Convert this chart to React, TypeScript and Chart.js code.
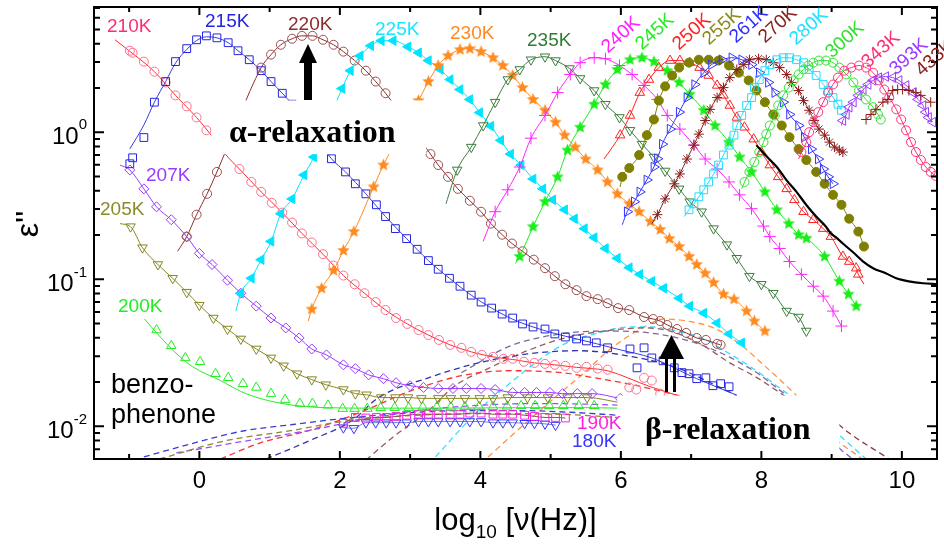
import React, { useEffect, useRef } from "react";
import { Chart, registerables } from "chart.js";

Chart.register(...registerables);

type Pt = [number, number];

// ---------- axes ----------
const X_MIN = -1.5;
const X_MAX = 10.5;
const Y_MIN = 0.006;
const Y_MAX = 7.1;
const xMajorTicks = [0, 2, 4, 6, 8, 10];
const xMinorTicks = [-1, 1, 3, 5, 7, 9];
const yDecadeExps = [0, -1, -2];

// ---------- data: [log10(nu/Hz), eps''] ----------
const t180: Pt[] = [[2.05,0.0098],[2.20,0.0097],[2.37,0.0106],[2.51,0.0106],[2.66,0.0106],[2.80,0.0106],[2.95,0.0106],[3.12,0.0108],[3.26,0.0108],[3.40,0.0108],[3.57,0.0108],[3.71,0.0108],[3.85,0.0108],[4.01,0.0108],[4.18,0.0106],[4.32,0.0106],[4.46,0.0106],[4.63,0.0105],[4.77,0.0105],[4.92,0.0104],[5.07,0.0102]];
const t190: Pt[] = [[2.05,0.0105],[2.22,0.0115],[2.37,0.0114],[2.52,0.0115],[2.66,0.0115],[2.80,0.0117],[2.95,0.0119],[3.12,0.0121],[3.26,0.0121],[3.40,0.0121],[3.57,0.0121],[3.71,0.0121],[3.85,0.0123],[4.01,0.0123],[4.18,0.0121],[4.32,0.0121],[4.46,0.0121],[4.63,0.0119],[4.77,0.0117],[4.92,0.0115],[5.07,0.0115],[5.21,0.0114]];
const t200: Pt[] = [[-0.61,0.0452],[-0.40,0.0353],[-0.20,0.0292],[0.01,0.0275],[0.23,0.0228],[0.41,0.0214],[0.62,0.0195],[0.81,0.0184],[1.02,0.0167],[1.22,0.0152],[1.43,0.0143],[1.61,0.0143],[1.83,0.0139],[2.04,0.0132],[2.21,0.0132],[2.39,0.0132],[2.58,0.0134],[2.78,0.0134],[2.98,0.0134],[3.18,0.0135],[3.38,0.0135],[3.58,0.0135],[3.78,0.0136],[3.98,0.0136],[4.18,0.0136],[4.38,0.0137],[4.58,0.0138],[4.78,0.0138],[4.98,0.0138],[5.18,0.0138],[5.40,0.0138],[5.62,0.0138]];
const fit200: Pt[] = [[-0.78,0.0537],[-0.57,0.0412],[-0.35,0.032],[-0.10,0.0255],[0.30,0.0205],[0.60,0.0172],[0.86,0.0155],[1.30,0.014],[1.80,0.0134],[2.5,0.0133],[3.5,0.0133],[4.5,0.0134],[5.5,0.0134],[5.95,0.0133]];
const t205: Pt[] = [[-1.13,0.239],[-0.98,0.228],[-0.81,0.164],[-0.59,0.126],[-0.38,0.1016],[-0.18,0.0817],[0,0.0667],[0.20,0.0545],[0.40,0.0459],[0.59,0.0393],[0.81,0.0336],[1.02,0.0292],[1.20,0.0258],[1.39,0.0228],[1.60,0.0208],[1.80,0.0192],[2.05,0.0178],[2.22,0.0167],[2.38,0.0164],[2.59,0.0157],[2.79,0.0157],[2.97,0.0157],[3.16,0.0155],[3.40,0.0155],[3.58,0.0155],[3.78,0.0155],[3.99,0.0155],[4.18,0.0155],[4.39,0.0157],[4.67,0.0157],[4.96,0.0157],[5.24,0.0157],[5.52,0.0157],[5.99,0.0145]];
const t207: Pt[] = [[-1.13,0.598],[-0.99,0.554],[-0.79,0.412],[-0.61,0.311],[-0.40,0.254],[-0.18,0.195],[0,0.15],[0.18,0.126],[0.40,0.0985],[0.59,0.0804],[0.81,0.0657],[1.02,0.0545],[1.23,0.0467],[1.42,0.0399],[1.60,0.0336],[1.81,0.0306],[2.05,0.0262],[2.22,0.0247],[2.41,0.0224],[2.62,0.0211],[2.80,0.0198],[3.00,0.0189],[3.19,0.0184],[3.40,0.0181],[3.61,0.0181],[3.80,0.0181],[4.01,0.0181],[4.21,0.0178],[4.46,0.017],[4.63,0.017],[4.80,0.017],[4.99,0.017],[5.17,0.0167],[5.38,0.0167],[5.59,0.0167],[5.99,0.0155]];
const t210: Pt[] = [[-0.99,3.58],[-0.95,3.47],[-0.79,3.02],[-0.64,2.58],[-0.48,2.18],[-0.34,1.78],[-0.18,1.5],[-0.04,1.26],[0.10,1.03],[0.57,0.562],[0.74,0.459],[0.88,0.393],[1.03,0.331],[1.18,0.284],[1.32,0.243],[1.46,0.205],[1.60,0.178],[1.76,0.148],[1.91,0.124],[2.05,0.106],[2.21,0.0925],[2.35,0.0804],[2.51,0.07],[2.65,0.0618],[2.80,0.0545],[2.96,0.0497],[3.12,0.0452],[3.26,0.0418],[3.41,0.0387],[3.57,0.0358],[3.73,0.0342],[3.87,0.0321],[4.02,0.0306],[4.18,0.0297],[4.33,0.0288],[4.46,0.0288],[4.62,0.0275],[4.77,0.027],[4.92,0.0266],[5.06,0.0262],[5.21,0.0258],[5.37,0.025],[5.51,0.0254],[5.67,0.0247],[5.81,0.0243],[6.12,0.0184],[6.22,0.0178],[6.33,0.0214],[6.44,0.0205],[6.56,0.0167]];
const fit210: Pt[] = [[-1.2,4.25],[-0.99,3.55],[-0.64,2.58],[-0.34,1.78],[-0.04,1.26],[0.15,0.98],[0.38,0.70],[0.57,0.562],[0.88,0.393],[1.18,0.284],[1.46,0.205],[1.76,0.148],[2.05,0.106],[2.35,0.0804],[2.65,0.0618],[2.96,0.0497],[3.26,0.0418],[3.57,0.0358],[3.87,0.0321],[4.18,0.0297],[4.46,0.0285],[4.77,0.027],[5.06,0.0262],[5.37,0.0252],[5.67,0.0245],[5.81,0.0239],[6.42,0.0186],[6.9,0.0157]];
const t215: Pt[] = [[-0.99,0.61],[-0.95,0.67],[-0.79,0.92],[-0.64,1.6],[-0.48,2.21],[-0.34,3.02],[-0.18,3.7],[-0.04,4.25],[0.10,4.52],[0.25,4.38],[0.41,4.06],[0.55,3.58],[0.71,3.11],[0.88,2.62],[1.02,2.21],[1.18,1.84],[1.32,1.55],[1.88,0.66],[2.08,0.537],[2.22,0.446],[2.37,0.381],[2.52,0.321],[2.65,0.267],[2.79,0.221],[2.95,0.189],[3.10,0.16],[3.26,0.134],[3.40,0.117],[3.56,0.1016],[3.71,0.0897],[3.87,0.078],[4.01,0.07],[4.16,0.0637],[4.31,0.058],[4.46,0.0545],[4.60,0.0497],[4.75,0.0474],[4.92,0.0459],[5.06,0.0425],[5.21,0.0405],[5.37,0.0393],[5.51,0.0381],[5.65,0.037],[5.81,0.0342],[6.13,0.0336],[6.23,0.025],[6.33,0.0342],[6.44,0.0292],[6.60,0.0279],[6.76,0.025],[6.87,0.0232],[6.97,0.0228],[7.08,0.0211],[7.21,0.0214],[7.31,0.0189],[7.42,0.0195],[7.54,0.0186]];
const fit215: Pt[] = [[-0.99,0.77],[-0.79,1.12],[-0.64,1.6],[-0.48,2.21],[-0.34,2.95],[-0.18,3.65],[-0.04,4.2],[0.10,4.45],[0.25,4.38],[0.41,4.06],[0.55,3.58],[0.71,3.11],[0.88,2.62],[1.02,2.21],[1.18,1.84],[1.32,1.55],[1.88,0.66],[2.08,0.537],[2.37,0.381],[2.65,0.267],[2.95,0.189],[3.26,0.134],[3.56,0.1016],[3.87,0.078],[4.16,0.0637],[4.46,0.0535],[4.75,0.0474],[5.06,0.0428],[5.37,0.0393],[5.65,0.0365],[5.95,0.0335],[6.44,0.0292],[7.08,0.0211],[7.65,0.0163]];
const t220: Pt[] = [[-0.31,0.155],[-0.18,0.195],[-0.04,0.275],[0.11,0.381],[0.25,0.537],[0.88,2.75],[1.02,3.37],[1.16,3.93],[1.32,4.32],[1.46,4.52],[1.61,4.52],[1.76,4.25],[1.91,3.93],[2.05,3.53],[2.21,3.07],[2.37,2.62],[2.51,2.21],[2.65,1.84],[3.29,0.71],[3.40,0.598],[3.54,0.497],[3.68,0.412],[3.85,0.342],[4.01,0.288],[4.15,0.239],[4.31,0.201],[4.45,0.175],[4.60,0.155],[4.76,0.136],[4.92,0.119],[5.06,0.105],[5.21,0.0925],[5.37,0.0843],[5.51,0.0768],[5.67,0.0733],[5.81,0.0688],[5.96,0.0637],[6.12,0.0618],[6.33,0.0554],[6.46,0.0537],[6.56,0.052],[6.66,0.0489],[6.80,0.0459],[6.93,0.0432],[7.08,0.0399],[7.21,0.0387],[7.37,0.0364],[7.42,0.0358]];
const t225: Pt[] = [[0.52,0.0608],[0.59,0.0804],[0.74,0.1016],[0.88,0.136],[1.02,0.181],[1.16,0.279],[1.32,0.352],[1.49,0.512],[1.63,0.678],[2.03,1.98],[2.15,2.62],[2.29,3.31],[2.44,3.87],[2.59,4.19],[2.76,4.19],[2.97,3.81],[3.12,3.47],[3.26,3.07],[3.43,2.67],[3.57,2.28],[3.71,1.95],[3.85,1.67],[3.99,1.36],[4.15,1.1],[4.29,0.88],[4.43,0.71],[4.58,0.598],[4.75,0.481],[4.89,0.412],[5.03,0.347],[5.20,0.297],[5.34,0.258],[5.48,0.221],[5.62,0.192],[5.78,0.162],[5.95,0.139],[6.12,0.12],[6.27,0.108],[6.44,0.0969],[6.61,0.0869],[6.83,0.0744],[6.98,0.0657],[7.18,0.0589],[7.37,0.0504],[7.54,0.0425],[7.72,0.037]];
const t230: Pt[] = [[1.55,0.052],[1.60,0.0627],[1.74,0.0869],[1.91,0.115],[2.05,0.157],[2.20,0.211],[2.48,0.425],[2.62,0.598],[3.12,1.64],[3.26,2.21],[3.40,2.84],[3.54,3.31],[3.71,3.64],[3.85,3.7],[4.01,3.53],[4.18,3.21],[4.32,2.84],[4.46,2.43],[4.60,2.01],[4.75,1.67],[4.92,1.41],[5.07,1.17],[5.20,0.955],[5.35,0.792],[5.50,0.657],[5.67,0.554],[5.81,0.459],[5.95,0.381],[6.12,0.326],[6.26,0.288],[6.42,0.247],[6.56,0.218],[6.69,0.189],[6.83,0.167],[6.97,0.143],[7.08,0.126],[7.20,0.11],[7.32,0.095],[7.46,0.0792],[7.61,0.0733],[7.79,0.0608],[7.90,0.052],[8.05,0.0445]];
const t235: Pt[] = [[3.51,0.326],[3.67,0.554],[3.87,0.792],[4.04,1.11],[4.21,1.6],[4.39,2.28],[4.56,2.67],[4.72,3.11],[4.92,3.26],[5.07,3.07],[5.27,2.71],[5.42,2.32],[5.62,1.92],[5.78,1.55],[5.98,1.26],[6.13,1.03],[6.30,0.83],[6.47,0.678],[6.63,0.545],[6.83,0.412],[6.98,0.337],[7.15,0.288],[7.32,0.221],[7.51,0.172],[7.65,0.139],[7.83,0.105],[8.00,0.0925],[8.17,0.0804],[8.36,0.0608],[8.53,0.0554],[8.64,0.0445]];
const t240: Pt[] = [[4.04,0.181],[4.21,0.288],[4.39,0.406],[4.56,0.58],[4.72,0.911],[4.92,1.3],[5.10,1.86],[5.28,2.47],[5.42,2.97],[5.62,3.21],[5.78,3.16],[5.98,2.84],[6.16,2.47],[6.33,2.08],[6.52,1.67],[6.66,1.3],[6.84,1.05],[7.04,0.817],[7.20,0.657],[7.37,0.562],[7.54,0.459],[7.69,0.375],[7.86,0.302],[8.03,0.23],[8.12,0.195],[8.26,0.162],[8.40,0.132],[8.57,0.108],[8.74,0.0897],[8.88,0.0768],[9.02,0.0608],[9.14,0.0481]];
const t245: Pt[] = [[4.50,0.128],[4.56,0.143],[4.75,0.228],[4.92,0.337],[5.10,0.497],[5.24,0.756],[5.42,1.08],[5.62,1.55],[5.78,2.11],[5.95,2.67],[6.13,3.11],[6.30,3.21],[6.47,3.02],[6.66,2.62],[6.83,2.18],[6.98,1.81],[7.18,1.41],[7.34,1.11],[7.54,0.856],[7.69,0.678],[7.86,0.537],[8.05,0.393],[8.22,0.297],[8.39,0.239],[8.53,0.201],[8.64,0.19],[8.90,0.143],[9.11,0.097],[9.24,0.0792],[9.35,0.0657]];
const t250: Pt[] = [[5.76,0.657],[5.99,0.955],[6.13,1.3],[6.27,1.86],[6.40,2.28],[6.54,2.75],[6.70,3.07],[6.84,3.07],[6.98,2.97],[7.12,2.75],[7.25,2.43],[7.37,2.08],[7.46,1.78],[7.55,1.52],[7.65,1.26],[7.76,1.08],[7.89,0.897],[8.00,0.733],[8.12,0.598],[8.24,0.497],[8.36,0.412],[8.47,0.347],[8.60,0.288],[8.74,0.254],[8.88,0.221],[8.99,0.195],[9.16,0.143],[9.25,0.132],[9.35,0.119],[9.38,0.108],[9.46,0.0925]];
const t250hf: Pt[] = [[7.93,0.817],[8.08,0.68],[8.22,0.58],[8.36,0.47],[8.50,0.393],[8.64,0.32],[8.78,0.267],[8.92,0.228],[8.99,0.205],[9.08,0.19],[9.16,0.175],[9.31,0.152],[9.45,0.132],[9.59,0.119],[9.77,0.11],[9.92,0.1016],[10.10,0.0969],[10.30,0.094],[10.51,0.0925]];
const t255: Pt[] = [[5.99,0.425],[6.02,0.497],[6.12,0.571],[6.26,0.7],[6.37,0.955],[6.47,1.22],[6.54,1.64],[6.63,2.05],[6.73,2.43],[6.83,2.75],[6.97,2.97],[7.11,3.11],[7.25,3.11],[7.39,3.07],[7.54,2.84],[7.68,2.54],[7.82,2.25],[7.93,1.92],[8.05,1.6],[8.17,1.32],[8.29,1.11],[8.40,0.925],[8.53,0.768],[8.64,0.647],[8.78,0.537],[8.90,0.446],[9.02,0.375],[9.14,0.321],[9.25,0.258],[9.38,0.211],[9.46,0.167]];
const t261: Pt[] = [[6.02,0.235],[6.09,0.288],[6.19,0.337],[6.27,0.393],[6.37,0.474],[6.47,0.58],[6.52,0.66],[6.59,0.83],[6.70,1.05],[6.83,1.37],[6.94,1.72],[7.05,2.11],[7.18,2.54],[7.29,2.88],[7.44,3.11],[7.58,3.21],[7.72,3.11],[7.86,2.88],[7.97,2.54],[8.10,2.18],[8.19,1.86],[8.31,1.6],[8.40,1.32],[8.53,1.11],[8.61,0.925],[8.71,0.768],[8.81,0.657],[8.88,0.562],[8.95,0.497],[9.02,0.446]];
const t270: Pt[] = [[6.44,0.239],[6.52,0.275],[6.63,0.352],[6.76,0.446],[6.84,0.52],[6.94,0.657],[7.04,0.817],[7.11,0.97],[7.20,1.2],[7.27,1.43],[7.37,1.72],[7.46,2.01],[7.55,2.35],[7.65,2.67],[7.75,2.88],[7.83,3.11],[7.96,3.16],[8.07,3.11],[8.17,2.97],[8.26,2.75],[8.36,2.47],[8.43,2.18],[8.53,1.92],[8.60,1.64],[8.68,1.41],[8.75,1.2],[8.82,1.05],[8.90,0.955],[8.97,0.856],[9.04,0.792],[9.11,0.756],[9.16,0.733]];
const t280: Pt[] = [[6.90,0.267],[6.97,0.297],[7.04,0.326],[7.11,0.364],[7.18,0.406],[7.25,0.459],[7.32,0.52],[7.39,0.598],[7.46,0.7],[7.54,0.817],[7.61,0.955],[7.65,1.11],[7.72,1.3],[7.79,1.52],[7.86,1.72],[7.90,2.01],[7.97,2.28],[8.05,2.62],[8.12,2.88],[8.22,3.11],[8.31,3.21],[8.40,3.21],[8.50,3.11],[8.60,2.97],[8.68,2.67],[8.78,2.43],[8.88,2.11],[8.95,1.92],[9.02,1.72],[9.09,1.55],[9.14,1.41]];
const t300: Pt[] = [[7.72,0.412],[7.76,0.459],[7.83,0.537],[7.90,0.627],[7.97,0.733],[8.03,0.856],[8.07,0.97],[8.12,1.11],[8.19,1.3],[8.24,1.52],[8.31,1.78],[8.39,2.01],[8.46,2.25],[8.53,2.47],[8.60,2.67],[8.67,2.84],[8.74,2.97],[8.82,3.07],[8.92,3.07],[9.02,2.97],[9.11,2.75],[9.21,2.47],[9.31,2.18],[9.39,1.92],[9.49,1.67],[9.59,1.48],[9.66,1.32],[9.70,1.22]];
const t343: Pt[] = [[8.53,0.657],[8.57,0.733],[8.64,0.856],[8.68,1.0],[8.74,1.17],[8.81,1.37],[8.88,1.6],[8.95,1.86],[9.02,2.11],[9.09,2.35],[9.18,2.62],[9.28,2.75],[9.39,2.84],[9.49,2.75],[9.59,2.54],[9.67,2.25],[9.75,1.95],[9.82,1.72],[9.92,1.43],[9.99,1.22],[10.06,1.03],[10.13,0.856],[10.20,0.733],[10.27,0.647],[10.34,0.58],[10.41,0.537],[10.48,0.505]];
const t393: Pt[] = [[9.14,1.11],[9.16,1.2],[9.21,1.32],[9.25,1.48],[9.31,1.6],[9.38,1.78],[9.45,1.95],[9.52,2.11],[9.59,2.25],[9.67,2.35],[9.77,2.39],[9.87,2.35],[9.96,2.25],[10.06,2.08],[10.16,1.86],[10.23,1.67],[10.30,1.52],[10.34,1.37],[10.38,1.26],[10.44,1.17]];
const t433: Pt[] = [[9.49,1.22],[9.56,1.32],[9.63,1.43],[9.73,1.6],[9.80,1.67],[9.87,1.92],[9.94,1.95],[10.01,1.95],[10.10,1.92],[10.20,1.86],[10.27,1.78],[10.41,1.6]];

// beta-relaxation fit curves (dashed)
const beta1: Pt[] = [[-0.79,0.0062],[-0.08,0.0077],[0.62,0.0093],[1.33,0.0103],[2.04,0.0113],[2.83,0.0122],[3.68,0.0128],[4.53,0.0128],[5.38,0.0124],[5.95,0.0119]];
const beta2: Pt[] = [[-0.57,0.006],[0.38,0.008],[1.33,0.0094],[2.04,0.0108],[2.83,0.0117],[3.97,0.0122],[5.10,0.0121],[5.95,0.0115]];
const beta3: Pt[] = [[-0.33,0.0066],[0.62,0.0079],[1.57,0.0094],[2.28,0.011],[3.12,0.0128],[3.97,0.0139],[4.82,0.0143],[5.67,0.0141],[6.02,0.0139]];
const beta4: Pt[] = [[0.30,0.006],[0.86,0.0077],[1.57,0.0094],[2.28,0.0124],[3.02,0.0175],[3.73,0.0221],[4.43,0.0239],[5.14,0.0232],[5.62,0.0214],[6.23,0.0189],[6.94,0.0157]];
const beta5: Pt[] = [[0.95,0.006],[1.57,0.008],[2.18,0.011],[2.55,0.0157],[3.26,0.0214],[3.97,0.027],[4.67,0.0311],[5.38,0.0327],[6.09,0.0302],[6.80,0.025],[7.41,0.0184],[7.65,0.0162]];
const beta6: Pt[] = [[3.73,0.0232],[4.43,0.0353],[5.14,0.0425],[5.85,0.0445],[6.52,0.0425],[7.18,0.0353],[7.89,0.0239],[8.36,0.0162]];
const beta7: Pt[] = [[2.37,0.0059],[2.75,0.0084],[3.26,0.0128],[3.64,0.0189],[4.11,0.0247],[4.67,0.0327],[5.20,0.0399],[5.76,0.0445],[6.33,0.0467],[6.70,0.0445],[7.18,0.0353],[7.55,0.027],[7.89,0.0221],[8.22,0.0175],[8.36,0.0157]];
const beta8: Pt[] = [[3.36,0.0062],[3.97,0.0128],[4.43,0.0198],[4.82,0.0279],[5.20,0.0364],[5.62,0.0425],[6.13,0.0474],[6.42,0.0474],[6.80,0.0445],[7.18,0.0393],[7.55,0.0311],[7.93,0.0239],[8.31,0.0175],[8.46,0.0157]];
const beta9: Pt[] = [[4.11,0.0062],[4.58,0.0099],[5.06,0.0157],[5.48,0.0232],[5.85,0.0336],[6.33,0.0474],[6.61,0.0537],[6.94,0.052],[7.32,0.0467],[7.69,0.0364],[8.03,0.0262],[8.31,0.0198],[8.50,0.0162]];
const beta10: Pt[] = [[8.9,0.013],[9.11,0.0102],[9.84,0.0059]];
const beta11: Pt[] = [[8.9,0.0105],[9.11,0.0087],[9.49,0.006]];
const beta12: Pt[] = [[8.95,0.0092],[9.11,0.0078],[9.42,0.0061]];
const beta13: Pt[] = [[9.0,0.008],[9.11,0.0071],[9.28,0.0061]];

// ---------- styling helpers ----------
const SANS = '"Liberation Sans", Arial, Helvetica, sans-serif';
const SERIF = '"Liberation Serif", "Times New Roman", Times, serif';

function makeStar(color: string, r: number): HTMLCanvasElement {
  const s = Math.ceil(r * 2 + 2);
  const c = document.createElement("canvas");
  c.width = s;
  c.height = s;
  const g = c.getContext("2d")!;
  g.beginPath();
  for (let i = 0; i < 10; i++) {
    const rad = i % 2 === 0 ? r : r * 0.45;
    const a = -Math.PI / 2 + (i * Math.PI) / 5;
    g.lineTo(s / 2 + rad * Math.cos(a), s / 2 + rad * Math.sin(a));
  }
  g.closePath();
  g.fillStyle = color;
  g.fill();
  return c;
}

type Opt = {
  color: string;
  lineColor?: string;
  style?: any;
  r?: number;
  rot?: number;
  fill?: boolean;
  line?: boolean;
  lead?: number;
  tail?: number;
  lw?: number;
  dash?: number[];
};

function mk(data: Pt[], o: Opt) {
  const n = data.length;
  const lead = o.lead ?? 0;
  const tail = o.tail ?? 0;
  const r = o.r ?? 0;
  return {
    data: data.map(([x, y]) => ({ x, y })),
    showLine: o.line !== false,
    borderColor: o.lineColor ?? o.color,
    borderWidth: o.lw ?? 1,
    borderDash: o.dash ?? [],
    pointStyle: o.style ?? "circle",
    pointRadius: (c: any) => (c.dataIndex < lead || c.dataIndex >= n - tail ? 0 : r),
    pointHoverRadius: 0,
    pointRotation: o.rot ?? 0,
    pointBorderColor: o.color,
    pointBackgroundColor: o.fill ? o.color : "rgba(0,0,0,0)",
    pointBorderWidth: 1,
    cubicInterpolationMode: "monotone",
    fill: false,
  };
}

function buildDatasets() {
  const starOrange = makeStar("#ff8a1f", 6.5);
  const starGreen = makeStar("#19ee19", 6.5);
  const dash = [6, 4];
  const d = (data: Pt[], color: string) => mk(data, { color, dash, lw: 1.3 });
  return [
    mk(t250hf, { color: "#000000", lw: 2.2 }),
    mk(t433, { color: "#8b1c1c", style: "cross", r: 5 }),
    mk(t393, { color: "#9a3cff", style: "triangle", rot: 270, r: 5.5, lead: 1 }),
    mk(t343, { color: "#ff2f7a", style: "circle", r: 4.5, lead: 1 }),
    mk(t300, { color: "#33e033", style: "circle", r: 4.5, lead: 1 }),
    mk(t280, { color: "#22ddff", style: "rect", r: 5.5, lead: 1 }),
    mk(t270, { color: "#8b1c1c", style: "star", r: 5, lead: 1 }),
    mk(t261, { color: "#3434ff", style: "triangle", rot: 90, r: 5.5, lead: 1 }),
    mk(t255, { color: "#7f7f00", style: "circle", r: 4.5, fill: true, lead: 1 }),
    mk(t250, { color: "#ff2020", style: "triangle", r: 5.5, lead: 1, tail: 1 }),
    mk(t245, { color: "#19ee19", style: starGreen, r: 6, lead: 1 }),
    mk(t240, { color: "#ff22ff", style: "cross", r: 6, lead: 1 }),
    mk(t235, { color: "#3d7d3d", style: "triangle", rot: 180, r: 5.5, lead: 1 }),
    mk(t230, { color: "#ff8a1f", style: starOrange, r: 6, lead: 1 }),
    mk(t225, { color: "#00e5ff", style: "triangle", rot: 270, r: 5.5, fill: true, lead: 1 }),
    mk(t220, { color: "#9c4f4f", lineColor: "#8a3030", style: "circle", r: 4.5, lead: 1 }),
    mk(t215, { color: "#2424e0", style: "rect", r: 5.5, line: false }),
    mk(fit215, { color: "#3a3ae6" }),
    mk(t210, { color: "#ff6f91", style: "circle", r: 4.5, line: false }),
    mk(fit210, { color: "#ff2b2b" }),
    mk(t207, { color: "#9a3cff", style: "rectRot", r: 5, lead: 1 }),
    mk(t205, { color: "#868622", style: "triangle", rot: 180, r: 5.5, lead: 1, tail: 1 }),
    mk(t200, { color: "#22ee22", style: "triangle", r: 5.5, line: false }),
    mk(fit200, { color: "#22ee22" }),
    mk(t190, { color: "#ff22dd", lineColor: "#8a5050", style: "rect", r: 5.5 }),
    mk(t180, { color: "#3535ff", lineColor: "#7a7ad0", style: "triangle", rot: 180, r: 5.5 }),
    d(beta1, "#3b3bd6"),
    d(beta2, "#8a8a2a"),
    d(beta3, "#9a4dff"),
    d(beta4, "#ff3030"),
    d(beta5, "#3333aa"),
    d(beta6, "#7a6a9a"),
    d(beta7, "#9a5a5a"),
    d(beta8, "#33e0ff"),
    d(beta9, "#ff9040"),
    d(beta10, "#8b3a3a"),
    d(beta11, "#33e0ff"),
    d(beta12, "#ff9040"),
    d(beta13, "#7766cc"),
  ];
}

// ---------- annotations (pixel anchored) ----------
const flatLabels: [string, number, number, string][] = [
  ["210K", 107, 32, "#ff2d6f"],
  ["215K", 205, 27, "#2323e0"],
  ["220K", 288, 30, "#8b2b2b"],
  ["225K", 375, 35, "#19e5ff"],
  ["230K", 450, 39, "#ff8a1f"],
  ["235K", 527, 46, "#2e7d32"],
  ["207K", 146, 181, "#9a3cff"],
  ["205K", 100, 215, "#8a8a2a"],
  ["200K", 118, 312, "#22ee22"],
  ["190K", 577, 429, "#ff22dd"],
  ["180K", 572, 447, "#3535ff"],
];
const rotLabels: [string, number, number, string][] = [
  ["240K", 621, 35, "#ff1fff"],
  ["245K", 655, 32, "#22ee22"],
  ["250K", 692, 32, "#ff2222"],
  ["255K", 722, 27, "#8b8b1a"],
  ["261K", 749, 25, "#2f2fff"],
  ["270K", 778, 25, "#8b2020"],
  ["280K", 809, 27, "#22e0ff"],
  ["300K", 845, 40, "#33e033"],
  ["343K", 881, 50, "#ff2f74"],
  ["393K", 909, 57, "#9a3cff"],
  ["433K", 935, 58, "#8b2020"],
];

const overlayPlugin = {
  id: "overlay",
  afterDatasetsDraw(chart: any) {
    const { ctx, chartArea: a } = chart;
    const xs = chart.scales.x;
    const ys = chart.scales.y;
    const X = (v: number) => xs.getPixelForValue(v);
    const Y = (v: number) => ys.getPixelForValue(v);
    ctx.save();

    // white label boxes
    ctx.fillStyle = "#ffffff";
    {
      const l = X(0.17), r = X(3.23), t = Y(1.645), b = Y(0.71);
      ctx.fillRect(l, t, r - l, b - t);
    }
    {
      const l = X(5.95), r = X(9.11), t = Y(0.0162);
      ctx.fillRect(l, t, r - l, a.bottom - t);
    }

    // frame
    ctx.strokeStyle = "#000";
    ctx.lineWidth = 2;
    ctx.strokeRect(a.left, a.top, a.right - a.left, a.bottom - a.top);

    // ticks
    ctx.lineWidth = 2;
    ctx.beginPath();
    const xt = (v: number, len: number) => {
      const p = X(v);
      ctx.moveTo(p, a.bottom);
      ctx.lineTo(p, a.bottom - len);
      ctx.moveTo(p, a.top);
      ctx.lineTo(p, a.top + len);
    };
    xMajorTicks.forEach((v) => xt(v, 8));
    xMinorTicks.forEach((v) => xt(v, 5));
    for (let e = -3; e <= 0; e++) {
      for (let m = 1; m <= 9; m++) {
        const v = m * Math.pow(10, e);
        if (v < Y_MIN || v > Y_MAX) continue;
        const p = Y(v);
        const len = m === 1 ? 10 : 6;
        ctx.moveTo(a.left, p);
        ctx.lineTo(a.left + len, p);
        ctx.moveTo(a.right, p);
        ctx.lineTo(a.right - len, p);
      }
    }
    ctx.stroke();

    // tick labels
    ctx.fillStyle = "#000";
    ctx.textBaseline = "alphabetic";
    ctx.font = `24px ${SANS}`;
    ctx.textAlign = "center";
    xMajorTicks.forEach((v) => ctx.fillText(String(v), X(v), 488));
    ctx.textAlign = "left";
    yDecadeExps.forEach((e) => {
      const p = Y(Math.pow(10, e));
      const sup = String(e);
      ctx.font = `15px ${SANS}`;
      const ws = ctx.measureText(sup).width;
      ctx.font = `24px ${SANS}`;
      const wb = ctx.measureText("10").width;
      const right = 87;
      ctx.fillText("10", right - ws - wb, p + 12);
      ctx.font = `15px ${SANS}`;
      ctx.fillText(sup, right - ws, e === 0 ? p - 3 : p - 2);
    });

    // axis titles
    {
      const big = `31px ${SANS}`;
      const small = `19px ${SANS}`;
      ctx.font = big;
      const w1 = ctx.measureText("log").width;
      const w3 = ctx.measureText(" [\u03bd(Hz)]").width;
      ctx.font = small;
      const w2 = ctx.measureText("10").width;
      const cx = (a.left + a.right) / 2;
      let x = cx - (w1 + w2 + w3) / 2;
      ctx.font = big;
      ctx.fillText("log", x, 530);
      x += w1;
      ctx.font = small;
      ctx.fillText("10", x, 538);
      x += w2;
      ctx.font = big;
      ctx.fillText(" [\u03bd(Hz)]", x, 530);
    }
    {
      ctx.save();
      ctx.translate(38, 224);
      ctx.rotate(-Math.PI / 2);
      ctx.font = `32px ${SANS}`;
      ctx.textAlign = "center";
      ctx.fillText("\u03b5''", 0, 0);
      ctx.restore();
    }

    // temperature labels
    ctx.font = `19px ${SANS}`;
    ctx.textAlign = "left";
    flatLabels.forEach(([s, x, y, c]) => {
      ctx.fillStyle = c;
      ctx.fillText(s, x, y);
    });
    rotLabels.forEach(([s, x, y, c]) => {
      ctx.save();
      ctx.translate(x, y);
      ctx.rotate((-42 * Math.PI) / 180);
      ctx.fillStyle = c;
      ctx.textAlign = "center";
      ctx.textBaseline = "middle";
      ctx.fillText(s, 0, 0);
      ctx.restore();
    });

    // sample name
    ctx.fillStyle = "#000";
    ctx.font = `27px ${SANS}`;
    ctx.textAlign = "left";
    ctx.fillText("benzo-", 111, 393);
    ctx.fillText("phenone", 111, 423);

    // relaxation labels
    ctx.font = `bold 32px ${SERIF}`;
    ctx.fillText("\u03b1-relaxation", 229, 142);
    ctx.fillText("\u03b2-relaxation", 645, 439);

    // alpha arrow
    ctx.fillStyle = "#000";
    ctx.fillRect(304, 60, 8, 40);
    ctx.beginPath();
    ctx.moveTo(299, 63);
    ctx.lineTo(317, 63);
    ctx.lineTo(308, 44);
    ctx.closePath();
    ctx.fill();

    // beta arrow (double shaft)
    ctx.fillRect(665, 357, 3, 35);
    ctx.fillRect(673, 357, 3, 35);
    ctx.beginPath();
    ctx.moveTo(659, 359);
    ctx.lineTo(684, 359);
    ctx.lineTo(671.5, 335);
    ctx.closePath();
    ctx.fill();

    ctx.restore();
  },
};

export default function App() {
  const ref = useRef<HTMLCanvasElement>(null);
  useEffect(() => {
    const canvas = ref.current;
    if (!canvas) return;
    const chart = new Chart(canvas, {
      type: "scatter",
      data: { datasets: buildDatasets() as any },
      options: {
        responsive: false,
        maintainAspectRatio: false,
        devicePixelRatio: 1,
        animation: false,
        events: [],
        layout: { padding: { left: 94, right: 2, top: 4, bottom: 86 } },
        plugins: { legend: { display: false }, tooltip: { enabled: false } },
        scales: {
          x: { type: "linear", min: X_MIN, max: X_MAX, bounds: "data", display: false },
          y: { type: "logarithmic", min: Y_MIN, max: Y_MAX, bounds: "data", display: false },
        },
      } as any,
      plugins: [overlayPlugin],
    });
    return () => chart.destroy();
  }, []);
  return (
    <div style={{ position: "absolute", left: 0, top: 0, width: 944, height: 545, background: "#fff" }}>
      <canvas ref={ref} width={944} height={545} style={{ width: 944, height: 545, display: "block" }} />
    </div>
  );
}
